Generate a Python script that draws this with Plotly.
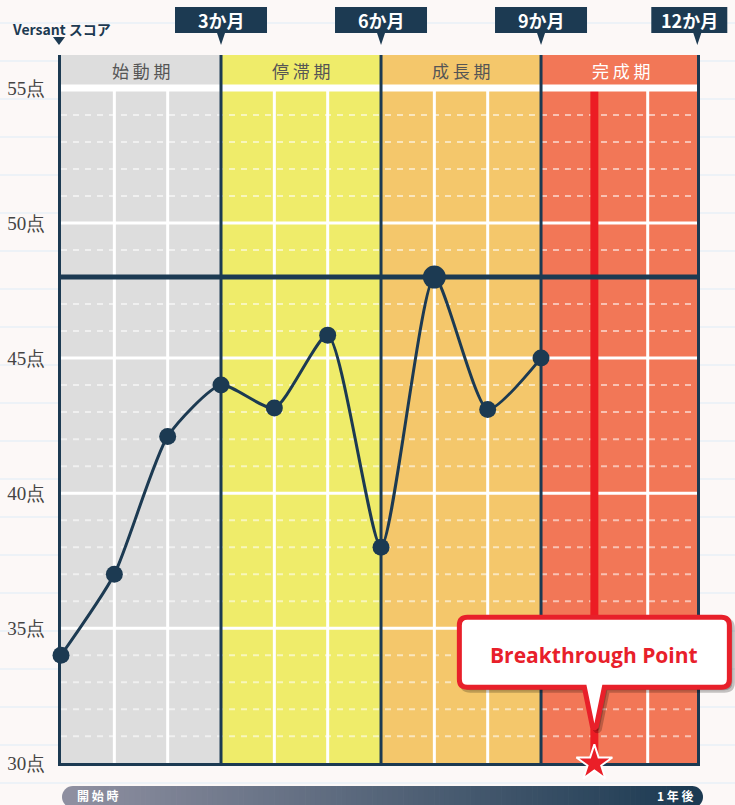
import plotly.graph_objects as go

# ---------------- data ----------------
MONTHS = [0, 1, 2, 3, 4, 5, 6, 7, 8, 9]
SCORES = [34, 37, 42.1, 44, 43.15, 45.85, 38, 48, 43.1, 45]
PEAK_MONTH = 7
TARGET_SCORE = 48
BREAK_MONTH = 10
BREAK_SCORE = 30
PHASE_NAMES = ["始 動 期", "停 滞 期", "成 長 期", "完 成 期"]
PHASE_BOUNDS = [0, 3, 6, 9, 12]
MILESTONE_MONTHS = [3, 6, 9, 12]
MILESTONE_LABELS = ["3か月", "6か月", "9か月", "12か月"]
Y_TICKS = [30, 35, 40, 45, 50, 55]
Y_TICK_TEXT = ["30点", "35点", "40点", "45点", "50点", "55点"]
Y_TITLE = "Versant スコア"
TIMELINE_START = "開 始 時"
TIMELINE_END = "1 年 後"
CALLOUT_TEXT = "Breakthrough Point"

# ---------------- style ----------------
W, H = 735, 805
NAVY = "#1c3a52"
RED = "#ec1c24"
BG = "#fcf8f7"
PHASE_COLORS = ["#dddddd", "#efec6a", "#f4c76b", "#f27757"]
PHASE_TEXT_COLORS = ["#555555", "#555555", "#555555", "#ffffff"]
PLOT_L, PLOT_R, PLOT_T, PLOT_B = 61, 697.3, 55, 763.3
X_RANGE = [0, 11.93]
Y_RANGE = [30, 56.22]
CJK = "Noto Sans CJK JP"


def px(x):
    return x / W


def py(y):
    return 1 - y / H


def month_to_paper(m):
    m = min(m, X_RANGE[1])
    return px(PLOT_L + (m - X_RANGE[0]) / (X_RANGE[1] - X_RANGE[0]) * (PLOT_R - PLOT_L))


shapes = []
annotations = []

# faint background stripes
for k in range(21):
    yy = 23 + 38 * k
    shapes.append(dict(type="line", xref="paper", yref="paper", x0=0, x1=1, y0=py(yy), y1=py(yy),
                       line=dict(color="#e9f1f7", width=1.5), layer="below"))

# phase regions
for i in range(4):
    shapes.append(dict(type="rect", xref="x", yref="y", x0=PHASE_BOUNDS[i], x1=PHASE_BOUNDS[i + 1],
                       y0=Y_RANGE[0], y1=Y_RANGE[1], fillcolor=PHASE_COLORS[i], line=dict(width=0),
                       layer="below"))

# minor dashed lines
for v in range(31, 55):
    if v % 5 == 0:
        continue
    shapes.append(dict(type="line", xref="x", yref="y", x0=0, x1=X_RANGE[1], y0=v, y1=v,
                       line=dict(color="rgba(255,255,255,0.55)", width=2, dash="6px,6px"), layer="below"))
# major white lines
for v in [35, 40, 45, 50]:
    shapes.append(dict(type="line", xref="x", yref="y", x0=0, x1=X_RANGE[1], y0=v, y1=v,
                       line=dict(color="#ffffff", width=3), layer="below"))
# vertical white month lines
for m in range(1, 12):
    if m % 3 == 0:
        continue
    shapes.append(dict(type="line", xref="x", yref="y", x0=m, x1=m, y0=Y_RANGE[0], y1=55,
                       line=dict(color="#ffffff", width=3), layer="below"))
# red breakthrough line
shapes.append(dict(type="line", xref="x", yref="y", x0=BREAK_MONTH, x1=BREAK_MONTH, y0=BREAK_SCORE, y1=55,
                   line=dict(color=RED, width=8), layer="below"))
# header separator
shapes.append(dict(type="line", xref="x", yref="y", x0=0, x1=X_RANGE[1], y0=55, y1=55,
                   line=dict(color="#ffffff", width=7), layer="below"))
# navy phase boundaries
for m in [3, 6, 9]:
    shapes.append(dict(type="line", xref="x", yref="y", x0=m, x1=m, y0=Y_RANGE[0], y1=Y_RANGE[1],
                       line=dict(color=NAVY, width=3), layer="below"))
# target line
shapes.append(dict(type="line", xref="x", yref="y", x0=0, x1=X_RANGE[1], y0=TARGET_SCORE, y1=TARGET_SCORE,
                   line=dict(color=NAVY, width=5), layer="below"))

# phase header labels
for i in range(4):
    mid = (PHASE_BOUNDS[i] + PHASE_BOUNDS[i + 1]) / 2
    annotations.append(dict(x=mid, xref="x", y=py(71), yref="paper", text=PHASE_NAMES[i], showarrow=False,
                            font=dict(family=CJK, size=17, color=PHASE_TEXT_COLORS[i]),
                            xanchor="center", yanchor="middle"))

# milestone labels
for m, lab in zip(MILESTONE_MONTHS, MILESTONE_LABELS):
    xa = month_to_paper(m)
    left, right = (-46, 46) if m < 12 else (-46, 30)
    shapes.append(dict(type="path", xref="paper", yref="paper", xsizemode="pixel", ysizemode="pixel",
                       xanchor=xa, yanchor=1,
                       path=f"M {left},-7 L {right},-7 L {right},-33 L 4,-33 L 0,-45 L -4,-33 L {left},-33 Z",
                       fillcolor=NAVY, line=dict(width=0), layer="above"))
    annotations.append(dict(x=xa, xref="paper", y=py(20), yref="paper", text=f"<b>{lab}</b>", showarrow=False,
                            xshift=(left + right) / 2, font=dict(family=CJK, size=18, color="#ffffff"),
                            xanchor="center", yanchor="middle"))

# y title
annotations.append(dict(x=px(10), xref="paper", y=py(29), yref="paper", text=f"<b>{Y_TITLE}</b>",
                        showarrow=False, font=dict(family=CJK, size=14, color=NAVY),
                        xanchor="left", yanchor="middle"))
shapes.append(dict(type="path", xref="paper", yref="paper",
                   path=f"M {px(53)},{py(37)} L {px(65)},{py(37)} L {px(59)},{py(45)} Z",
                   fillcolor=NAVY, line=dict(width=0), layer="above"))

# callout (anchored at breakthrough point)
cx = month_to_paper(BREAK_MONTH)
cy = py(PLOT_B)


def callout_path(dx=0, dy=0):
    L, R, T, B, r = -135 + dx, 135 + dx, 146 + dy, 76 + dy, 8
    return (f"M {L + r},{T} L {R - r},{T} Q {R},{T} {R},{T - r} L {R},{B + r} Q {R},{B} {R - r},{B} "
            f"L {10 + dx},{B} L {2 + dx},{37 + dy} Q {dx},{34 + dy} {-2 + dx},{37 + dy} L {-10 + dx},{B} "
            f"L {L + r},{B} Q {L},{B} {L},{B + r} L {L},{T - r} Q {L},{T} {L + r},{T} Z")


shapes.append(dict(type="path", xref="paper", yref="paper", xsizemode="pixel", ysizemode="pixel",
                   xanchor=cx, yanchor=cy, path=callout_path(3, -3),
                   fillcolor="rgba(0,0,0,0.22)", line=dict(color="rgba(0,0,0,0.22)", width=5), layer="above"))
shapes.append(dict(type="path", xref="paper", yref="paper", xsizemode="pixel", ysizemode="pixel",
                   xanchor=cx, yanchor=cy, path=callout_path(),
                   fillcolor="#ffffff", line=dict(color="#e8202a", width=5), layer="above"))
annotations.append(dict(x=cx, xref="paper", y=py(655), yref="paper", text=f"<b>{CALLOUT_TEXT}</b>",
                        showarrow=False, font=dict(family="Open Sans", size=21, color="#e8202a"),
                        xanchor="center", yanchor="middle"))

# bottom timeline bar (gradient)
c0 = (142, 143, 160)
c1 = (28, 58, 82)
x_start, x_end = 73, 692
N = 120
sw = (x_end - x_start) / N


def mix(t):
    return "rgb(%d,%d,%d)" % tuple(round(a + (b - a) * t) for a, b in zip(c0, c1))


shapes.append(dict(type="circle", xref="paper", yref="paper", x0=px(62), x1=px(84), y0=py(808), y1=py(786),
                   fillcolor=mix(0), line=dict(width=0), layer="below"))
shapes.append(dict(type="circle", xref="paper", yref="paper", x0=px(681), x1=px(703), y0=py(808), y1=py(786),
                   fillcolor=mix(1), line=dict(width=0), layer="below"))
for i in range(N):
    x0 = x_start + i * sw
    shapes.append(dict(type="rect", xref="paper", yref="paper", x0=px(x0), x1=px(x0 + sw + 0.7),
                       y0=py(808), y1=py(786), fillcolor=mix((i + 0.5) / N), line=dict(width=0), layer="below"))
annotations.append(dict(x=px(75), xref="paper", y=py(795.5), yref="paper", text=f"<b>{TIMELINE_START}</b>",
                        showarrow=False, font=dict(family=CJK, size=12, color="#ffffff"),
                        xanchor="left", yanchor="middle"))
annotations.append(dict(x=px(696), xref="paper", y=py(795.5), yref="paper", text=f"<b>{TIMELINE_END}</b>",
                        showarrow=False, font=dict(family=CJK, size=12, color="#ffffff"),
                        xanchor="right", yanchor="middle"))

fig = go.Figure()
fig.add_trace(go.Scatter(
    x=MONTHS, y=SCORES, mode="lines+markers",
    line=dict(color=NAVY, width=3, shape="spline", smoothing=0.6),
    marker=dict(color=NAVY, opacity=1, line=dict(width=0),
                size=[23 if m == PEAK_MONTH else 17 for m in MONTHS]),
    cliponaxis=False, hoverinfo="skip", showlegend=False))
fig.add_trace(go.Scatter(
    x=[BREAK_MONTH], y=[BREAK_SCORE], mode="markers",
    marker=dict(symbol="star", size=27, color="#ea1f28", opacity=1, line=dict(color="#ffffff", width=2)),
    cliponaxis=False, hoverinfo="skip", showlegend=False))

fig.update_layout(
    width=W, height=H, margin=dict(l=0, r=0, t=0, b=0, pad=0, autoexpand=False),
    paper_bgcolor=BG, plot_bgcolor="rgba(0,0,0,0)",
    xaxis=dict(domain=[px(PLOT_L), px(PLOT_R)], range=X_RANGE, showgrid=False, zeroline=False,
               showticklabels=False, ticks="", showline=True, linecolor=NAVY, linewidth=3,
               layer="below traces", fixedrange=True),
    yaxis=dict(domain=[py(PLOT_B), py(PLOT_T)], range=Y_RANGE, showgrid=False, zeroline=False,
               tickvals=Y_TICKS, ticktext=Y_TICK_TEXT, ticks="", ticklabelstandoff=9,
               tickfont=dict(family="Liberation Serif", size=19, color="#444444"),
               showline=True, mirror=True, linecolor=NAVY, linewidth=3, layer="below traces",
               fixedrange=True),
    shapes=shapes, annotations=annotations, showlegend=False,
)

fig.write_html("out.html")
